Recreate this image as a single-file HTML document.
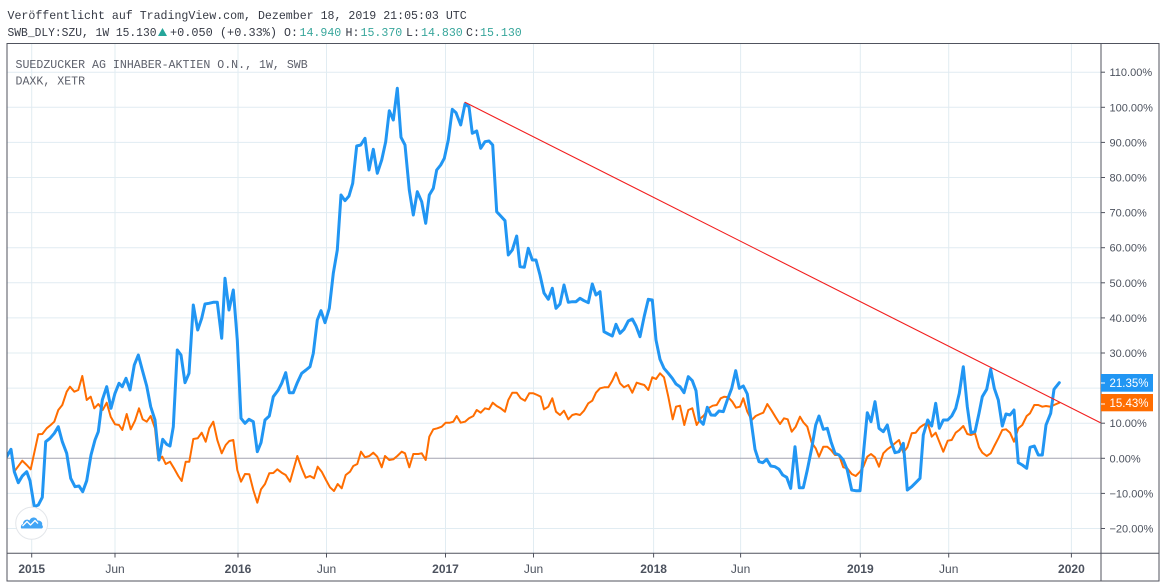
<!DOCTYPE html>
<html><head><meta charset="utf-8"><style>
html,body{margin:0;padding:0;background:#fff;}
svg{display:block;}
.mono{font-family:"Liberation Mono",monospace;font-size:11.6px;}
.ax{font-family:"Liberation Sans",sans-serif;font-size:11px;fill:#4c525e;}
.tx{font-family:"Liberation Sans",sans-serif;font-size:12px;fill:#4c525e;}
</style></head><body>
<svg width="1166" height="588" viewBox="0 0 1166 588" xmlns="http://www.w3.org/2000/svg">
<rect width="1166" height="588" fill="#fff"/>
<!-- header -->
<text class="mono" x="7.5" y="19" fill="#363a45">Veröffentlicht auf TradingView.com, Dezember 18, 2019 21:05:03 UTC</text>
<text class="mono" x="7.5" y="36" fill="#363a45" textLength="149" lengthAdjust="spacingAndGlyphs">SWB_DLY:SZU, 1W 15.130</text>
<polygon points="158,36 162.5,28 167,36" fill="#26a69a"/>
<text class="mono" x="170" y="36" fill="#363a45" textLength="107" lengthAdjust="spacingAndGlyphs">+0.050 (+0.33%)</text>
<text class="mono" x="284" y="36" fill="#363a45">O:</text>
<text class="mono" x="299.5" y="36" fill="#37a69b">14.940</text>
<text class="mono" x="345.5" y="36" fill="#363a45">H:</text>
<text class="mono" x="360.5" y="36" fill="#37a69b">15.370</text>
<text class="mono" x="406" y="36" fill="#363a45">L:</text>
<text class="mono" x="421" y="36" fill="#37a69b">14.830</text>
<text class="mono" x="466" y="36" fill="#363a45">C:</text>
<text class="mono" x="480" y="36" fill="#37a69b">15.130</text>

<!-- grid -->
<g stroke="#e1ecf2" stroke-width="1">
<line x1="7" y1="72.2" x2="1101" y2="72.2"/>
<line x1="7" y1="107.3" x2="1101" y2="107.3"/>
<line x1="7" y1="142.4" x2="1101" y2="142.4"/>
<line x1="7" y1="177.5" x2="1101" y2="177.5"/>
<line x1="7" y1="212.6" x2="1101" y2="212.6"/>
<line x1="7" y1="247.7" x2="1101" y2="247.7"/>
<line x1="7" y1="282.8" x2="1101" y2="282.8"/>
<line x1="7" y1="317.9" x2="1101" y2="317.9"/>
<line x1="7" y1="353" x2="1101" y2="353"/>
<line x1="7" y1="388.1" x2="1101" y2="388.1"/>
<line x1="7" y1="423.2" x2="1101" y2="423.2"/>
<line x1="7" y1="493.4" x2="1101" y2="493.4"/>
<line x1="7" y1="528.5" x2="1101" y2="528.5"/>
<line x1="31.7" y1="44" x2="31.7" y2="553"/>
<line x1="115" y1="44" x2="115" y2="553"/>
<line x1="238" y1="44" x2="238" y2="553"/>
<line x1="326.5" y1="44" x2="326.5" y2="553"/>
<line x1="445.5" y1="44" x2="445.5" y2="553"/>
<line x1="533.5" y1="44" x2="533.5" y2="553"/>
<line x1="653.6" y1="44" x2="653.6" y2="553"/>
<line x1="740.6" y1="44" x2="740.6" y2="553"/>
<line x1="860.3" y1="44" x2="860.3" y2="553"/>
<line x1="948.7" y1="44" x2="948.7" y2="553"/>
<line x1="1071.4" y1="44" x2="1071.4" y2="553"/>
</g>
<line x1="7" y1="458.3" x2="1101" y2="458.3" stroke="#a3a3b0" stroke-width="1"/>

<!-- legend -->
<text class="mono" x="15.5" y="68" fill="#5d606b">SUEDZUCKER AG INHABER-AKTIEN O.N., 1W, SWB</text>
<text class="mono" x="15.5" y="84.5" fill="#5d606b">DAXK, XETR</text>

<defs><clipPath id="pc"><rect x="7" y="44" width="1094" height="509"/></clipPath></defs>
<g clip-path="url(#pc)" fill="none" stroke-linejoin="round" stroke-linecap="round">
<polyline stroke="#ff6d00" stroke-width="2" points="15,470.7 22.3,460.7 26.7,465 30.7,469.3 34.3,452.7 38.3,434.3 42.3,434 46.7,428.3 50.7,425 54.3,421.7 58.3,410 62.3,405 66.7,391.7 70,386.7 74.3,391.7 78.3,390 82.3,376 86.7,400 90.7,396.7 94.3,408.3 98.3,404 102.7,410 106.7,402.7 110.7,416.7 115,424.3 119,425 122.3,430 126.7,414 130.7,429.3 135,420.7 139,408.3 142.7,419.3 146.7,421.7 150.7,416 155,428.3 158.3,460 162.3,456.7 165.7,464 170,461.7 174,468.3 178.3,476 181.7,481 185.7,461.7 189.3,461.7 193.3,439 197.7,438.3 201.7,432.7 205.7,441.7 209.3,428.3 213.3,421.7 217.3,440 221.7,453.3 225.7,445 229.3,441 233.3,440 237.3,470 241,481.7 245,474 249.3,474.3 253.3,490 257.3,502.7 261,489.3 265,484 269.3,473.3 273.3,473 277.3,469.3 281.7,472.7 285.7,475 290,481.7 297.3,456 301.7,468.3 305.7,477.7 310,476 314,478.3 317.7,466.7 321.7,471.7 326,480 330,487.3 334,491 337.7,484 341.7,488.3 345.7,475 350,471.7 353.3,466 357.3,464 361,451.7 365,457.3 369.3,456 373.3,452.7 377.3,456.7 381.7,467.3 385,456 389.3,460 393.3,459.3 397.3,456 401.7,451.7 405,453.3 409.3,467.3 413.3,454 418.3,454 421.7,453.3 425.7,460 429.3,436.7 433.3,429.3 437.3,428.3 441.7,426.7 445.7,422.7 450,422.7 453.3,421.7 456.7,416 460.7,422.7 465,421.7 469,418.3 473.3,416 476.7,410 480.7,412.7 485,408.3 489,409.3 492.7,402.7 496.7,406 500.7,408.3 505,411.7 508.3,400 512.3,392.7 516.7,392.7 520.7,398.3 525,400.7 529.3,393.3 533.3,393.3 537.3,395 540.7,396.7 544,409.3 548.3,406.7 552.3,398.3 556,411.7 560,415 564,410.7 568.3,419.3 572.3,415 576,414 580,415 584,410.7 588.3,403.3 592.3,400.7 596,392.7 600,388.3 604.3,387.3 608.3,387.3 612.3,380.7 616,372.7 620,383.3 624,387.3 628.3,385 632.3,392.7 636.7,382.7 640.7,384 644.3,385 648.3,390 652.3,377.3 656,379 660,373.3 664,377.3 668.3,396.7 672.7,419.3 676,406.7 680,405.7 684.3,425 688.3,410 692.3,408.3 696.7,425 700.7,418.3 704.3,415 708.3,408.3 712.7,405.7 716.7,405 720.7,398.3 724.3,396.7 728.3,397.3 732.3,401.7 736,407.7 740,406.7 743.3,398.3 747.3,411.7 751.7,420 755.7,416 760,414 763.3,412.7 767.3,404 771.7,410.7 775.7,417.3 780,424 784,418.3 787.7,419.3 791.7,431.7 795.7,426.7 800,416.7 803.3,422.3 807.3,426.7 811.7,442.7 815.7,448.3 819,456.7 823.3,446.7 827.3,446.7 831,450 835,455 839,455 843.3,467.3 847.3,468.3 851.7,474 855.7,476 860,471.7 863.3,466.7 867.3,456.7 871,454 875,457.3 879,466.7 883.3,453.3 887.3,449.3 891,446.7 895,443.3 899,440 903.3,452.7 907.3,447.3 911.7,433.3 915.7,432.7 920,427.3 923.3,425 927.7,422.7 931.7,436.7 935.7,432.7 939.3,441.7 943.3,451.7 947.7,440.7 951.7,440 955.7,432.7 959.3,430 963.3,426 967.3,434 971,435 975,433.3 979,447.3 982.3,452.7 986.7,456 990.7,453.3 994.3,446 998.3,438.3 1002.3,430 1006,429.3 1010,432.7 1014,441.7 1018.3,428.3 1022.3,425 1026.7,416 1030,413.3 1034.3,405 1038.3,405 1042.3,406.7 1046,406 1050.7,406.7 1054,405 1059.3,402.7"/>
<polyline stroke="#2196f3" stroke-width="3" points="6.7,456.7 11,449.3 14.3,471.7 18.3,482.7 22.3,476 26.7,471.7 30,480.7 34.3,506.7 38.3,505 42.3,497.3 45.7,441.7 50,438.3 54.3,433.3 58.3,426.7 62.3,441.7 66.7,453.3 70.7,478.3 75,486.7 79,486 82.7,491.7 86.7,480.7 91,455 95,440 98.3,431.7 102.3,400 106.7,386.7 111,408.3 115,393.3 119,383.3 122.3,386.7 126,378.3 130,390 134.3,365 138.3,355 142.3,370 146.7,386 150.7,406.7 155,420 159,460 162.7,439.3 166.7,444.3 170,446 173.3,426.7 177.3,350 181,355 185,382.7 189,373.3 193.3,305 197.7,330 201.7,318.3 205,304 209,303.3 213.3,302.3 217.3,302.3 221.7,338.3 225,278.3 229,310 233.3,290 237.3,340 241,418.3 245,423.3 249,419.3 253.3,421.7 257.3,451.7 261,442.7 265,420 269.3,416 273.3,396.7 278.3,390 281.7,383.3 285.7,372.7 289.3,392.7 293.3,392.7 297.3,382.7 301.7,373.3 306,370 310,366.7 313.3,353.3 317.3,320 321,310.7 325,322.7 329.3,308.3 333.3,273.3 337.3,250 341,195 345,200.7 349,196 352.7,183.3 356.7,146 360.7,145 365,138.3 369,170 373.3,149.3 377.3,173.3 381.7,160 385.7,141.7 389.3,110.7 393.3,120 397.3,88.3 401,137.3 405,145 409.3,190 413.3,215 417.3,191.7 421.7,201.7 425.7,223.3 429.3,195 433.3,188.3 436.7,170 440.7,165 444.3,158.3 448.3,140 452.3,109.3 456,112.7 460.7,125 465,104 469,106.7 472.3,133.3 476.7,131 480.7,148.3 485,141.7 489,141 492.7,145 496.7,211.7 500.7,216 505,220.7 508.3,255 512.3,250 516.7,236 520,266.7 524.3,267.3 528.3,248.3 532.3,260 536,260 540,275 544,293 548.3,299.3 552.3,288.3 556,308.3 560,304 564,285 568.3,302.3 572.3,301.7 576,301.7 580,298.3 584,300.7 588.3,302.7 592.3,284 596,295 600,291.7 604,331.7 608.3,334 612.3,336 616,324.3 620,333.3 624,329.3 628.3,321 632.3,319 636,326 640,336.7 644.3,316 648.3,299.3 652.3,300 656,340 660,359.3 664,368.3 668.3,373.3 672.3,378.3 676,384 680,386.7 684,392.7 688.3,376.7 692.3,380.7 696,390.7 699.3,420 703.3,424.3 707.3,407.3 711,415 715,415.3 719,411 723.3,411.7 727.3,400 731.7,388.3 735.7,370.7 739.3,388.3 743.3,386 747.3,394 751,420 755,449.3 759,461.7 762.7,462.7 766.7,459.3 770.7,466 775,466.7 779,469.3 782.7,475 786.7,477.3 790.7,488.3 795,446.7 799.3,487.7 803.3,487.7 807.3,470 811.7,448.3 815.7,425 819,416 823.3,429.3 827.3,428.3 831,441.7 835,453.3 839,455 843.3,460 847.3,470 851.7,490 855.7,490.7 860,490.7 863.3,455 867.3,412.7 871,421.7 875,401.7 879,428.3 883.3,431.7 887.3,425 891,441.7 895,452.7 899,451.7 903.3,443.3 907.3,490 911.7,486.7 915.7,482.7 920,478.3 923.3,435 927.7,420 931.7,426 935.7,403.3 939.3,428.3 943.3,420 947.7,420 951.7,416 955.7,408.3 959.3,393.3 963.3,366.7 967.3,406.7 971,432.7 975,431.7 979,413.3 982.3,396.7 986.7,389.3 990.7,369.3 994.3,388.3 998.3,400 1002.3,426 1006,414 1010,415 1014,410 1018.3,462.7 1022.3,465 1026.7,468.3 1030,447.3 1034.3,446 1038.3,455 1042.3,455 1046,425 1050.7,413.3 1054,389.3 1059.3,382.7"/>
<line x1="465" y1="102.3" x2="1100" y2="422.5" stroke="#f21f1f" stroke-width="1.1"/>
</g>

<!-- logo -->
<circle cx="31.7" cy="523.3" r="16" fill="#fff" stroke="#e3e6ea" stroke-width="1"/>
<path d="M21.5,528.5 C20.5,528.5 20.5,524.5 23,524 C23,520 27,518.5 29.5,520.5 C31,516.5 36.5,516.5 37.5,520.5 C41,520 43,523 42,525 C43.5,526 43,528.5 41.5,528.5 Z" fill="#42a5f5"/>
<polyline points="22.5,526 27,521.5 30.5,525 35,520.5 38,523.5" fill="none" stroke="#fff" stroke-width="1.3" stroke-linejoin="round"/>

<!-- frame -->
<g stroke="#50535e" stroke-width="1" fill="none">
<rect x="7" y="43.5" width="1152" height="537.5"/>
<line x1="1101" y1="43.5" x2="1101" y2="581"/>
<line x1="7" y1="553.3" x2="1159" y2="553.3"/>
</g>

<!-- price axis -->
<g stroke="#50535e" stroke-width="1">
<line x1="1101" y1="72.2" x2="1105" y2="72.2"/>
<line x1="1101" y1="107.3" x2="1105" y2="107.3"/>
<line x1="1101" y1="142.4" x2="1105" y2="142.4"/>
<line x1="1101" y1="177.5" x2="1105" y2="177.5"/>
<line x1="1101" y1="212.6" x2="1105" y2="212.6"/>
<line x1="1101" y1="247.7" x2="1105" y2="247.7"/>
<line x1="1101" y1="282.8" x2="1105" y2="282.8"/>
<line x1="1101" y1="317.9" x2="1105" y2="317.9"/>
<line x1="1101" y1="353" x2="1105" y2="353"/>
<line x1="1101" y1="423.2" x2="1105" y2="423.2"/>
<line x1="1101" y1="458.3" x2="1105" y2="458.3"/>
<line x1="1101" y1="493.4" x2="1105" y2="493.4"/>
<line x1="1101" y1="528.5" x2="1105" y2="528.5"/>
</g>
<text class="ax" x="1109.5" y="76.2">110.00%</text>
<text class="ax" x="1109.5" y="111.3">100.00%</text>
<text class="ax" x="1109.5" y="146.4">90.00%</text>
<text class="ax" x="1109.5" y="181.5">80.00%</text>
<text class="ax" x="1109.5" y="216.6">70.00%</text>
<text class="ax" x="1109.5" y="251.7">60.00%</text>
<text class="ax" x="1109.5" y="286.8">50.00%</text>
<text class="ax" x="1109.5" y="321.9">40.00%</text>
<text class="ax" x="1109.5" y="357">30.00%</text>
<text class="ax" x="1109.5" y="427.2">10.00%</text>
<text class="ax" x="1109.5" y="462.3">0.00%</text>
<text class="ax" x="1109.5" y="497.4">−10.00%</text>
<text class="ax" x="1109.5" y="532.5">−20.00%</text>

<rect x="1101" y="374" width="52" height="17.7" fill="#2196f3"/>
<line x1="1101" y1="383" x2="1105" y2="383" stroke="#fff"/>
<text x="1109.5" y="387.2" font-family="Liberation Sans, sans-serif" font-size="11.5" fill="#fff">21.35%</text>
<rect x="1101" y="394" width="52" height="17.3" fill="#ff6d00"/>
<line x1="1101" y1="404" x2="1105" y2="404" stroke="#fff"/>
<text x="1109.5" y="407.2" font-family="Liberation Sans, sans-serif" font-size="11.5" fill="#fff">15.43%</text>

<!-- time axis -->
<g stroke="#50535e" stroke-width="1">
<line x1="31.7" y1="553.3" x2="31.7" y2="557.5"/>
<line x1="115" y1="553.3" x2="115" y2="557.5"/>
<line x1="238" y1="553.3" x2="238" y2="557.5"/>
<line x1="326.5" y1="553.3" x2="326.5" y2="557.5"/>
<line x1="445.5" y1="553.3" x2="445.5" y2="557.5"/>
<line x1="533.5" y1="553.3" x2="533.5" y2="557.5"/>
<line x1="653.6" y1="553.3" x2="653.6" y2="557.5"/>
<line x1="740.6" y1="553.3" x2="740.6" y2="557.5"/>
<line x1="860.3" y1="553.3" x2="860.3" y2="557.5"/>
<line x1="948.7" y1="553.3" x2="948.7" y2="557.5"/>
<line x1="1071.4" y1="553.3" x2="1071.4" y2="557.5"/>
</g>
<g class="tx" text-anchor="middle">
<text x="31.7" y="573" font-weight="bold" fill="#4c525e">2015</text>
<text x="115" y="573">Jun</text>
<text x="238" y="573" font-weight="bold" fill="#4c525e">2016</text>
<text x="326.5" y="573">Jun</text>
<text x="445.5" y="573" font-weight="bold" fill="#4c525e">2017</text>
<text x="533.5" y="573">Jun</text>
<text x="653.6" y="573" font-weight="bold" fill="#4c525e">2018</text>
<text x="740.6" y="573">Jun</text>
<text x="860.3" y="573" font-weight="bold" fill="#4c525e">2019</text>
<text x="948.7" y="573">Jun</text>
<text x="1071.4" y="573" font-weight="bold" fill="#4c525e">2020</text>
</g>
</svg>
</body></html>
